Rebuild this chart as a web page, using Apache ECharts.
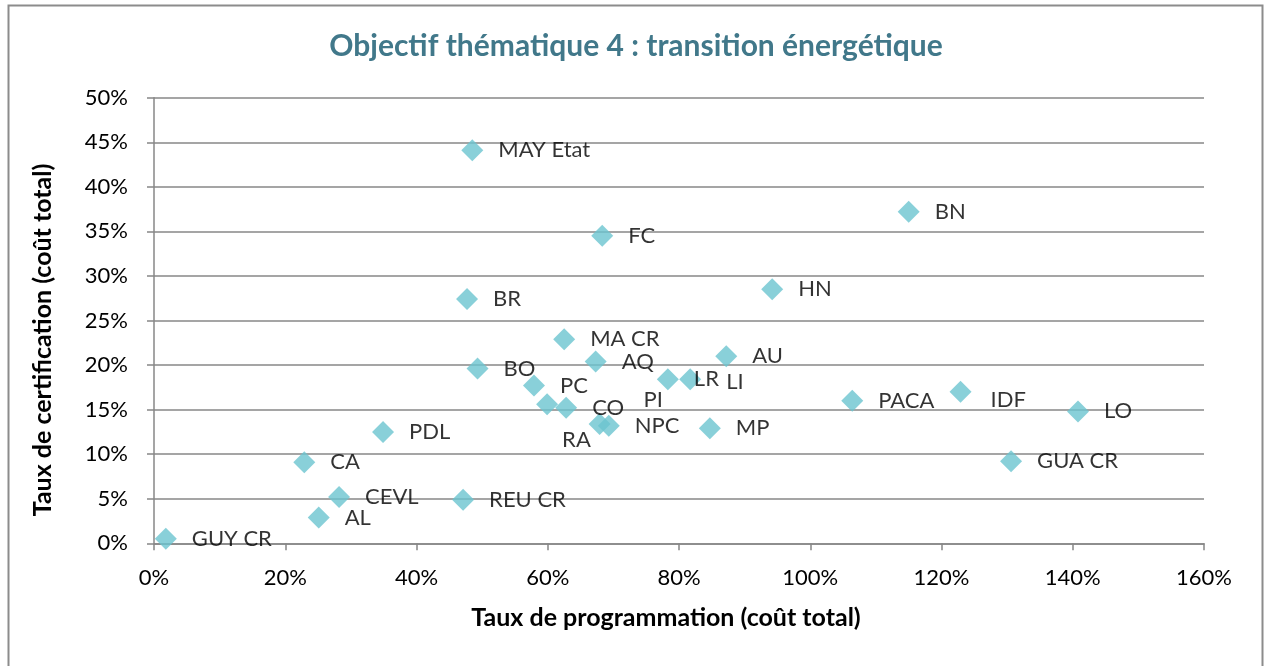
<!DOCTYPE html>
<html>
<head>
<meta charset="utf-8">
<script src="https://cdn.jsdelivr.net/npm/echarts@6/dist/echarts.min.js"></script>
<style>
    html, body { margin: 0; padding: 0; background: #fff; }
    #chart { width: 1265px; height: 666px; }
</style>
</head>
<body>
<div id="chart"></div>
<script>
const regions = [
    "GUY CR", "AL", "CEVL", "REU CR", "CA", "PDL", "MAY Etat", "BR", "FC", "BN",
    "HN", "MA CR", "BO", "AQ", "AU", "LR", "LI", "PC", "RA", "CO",
    "PI", "NPC", "MP", "PACA", "IDF", "LO", "GUA CR"
];
// taux de programmation (%)
const programmation = [
    1.8, 25.1, 28.2, 47.1, 22.9, 34.9, 48.5, 47.7, 68.3, 115.0,
    94.2, 62.5, 49.3, 67.3, 87.2, 78.3, 81.7, 57.9, 59.9, 62.8,
    67.9, 69.3, 84.7, 106.4, 122.9, 140.8, 130.6
];
// taux de certification (%)
const certification = [
    0.5, 2.9, 5.2, 4.9, 9.1, 12.5, 44.1, 27.4, 34.5, 37.2,
    28.5, 22.9, 19.6, 20.4, 21.0, 18.4, 18.4, 17.7, 15.6, 15.2,
    13.4, 13.2, 12.9, 16.0, 17.0, 14.8, 9.2
];
const xTicks = [0, 20, 40, 60, 80, 100, 120, 140, 160];
const yTicks = [0, 5, 10, 15, 20, 25, 30, 35, 40, 45, 50];

// labels moved by hand in the original
const labelShift = {
    "RA": [-11, 36],
    "PI": [18, -24],
    "LI": [10, 3],
    "IDF": [4, 8]
};

const font = "Lato, 'Open Sans', sans-serif";
const axisGrey = "#878787";

const chart = echarts.init(document.getElementById("chart"));

chart.setOption({
    animation: false,
    textStyle: { fontFamily: font },
    grid: { left: 154, right: 61, top: 97.7, bottom: 122.7 },
    graphic: [
        {
            type: "rect",
            shape: { x: 8.5, y: 5.5, width: 1254, height: 700 },
            style: { fill: "none", stroke: "#8c8c8c", lineWidth: 2 }
        },
        {
            type: "text",
            x: 636,
            y: 46,
            style: {
                text: "Objectif thématique 4 : transition énergétique",
                font: "bold 30px " + font,
                fill: "#41788a",
                textAlign: "center",
                textVerticalAlign: "middle"
            }
        },
        {
            type: "text",
            x: 666,
            y: 618,
            style: {
                text: "Taux de programmation (coût total)",
                font: "bold 25px " + font,
                fill: "#000",
                textAlign: "center",
                textVerticalAlign: "middle"
            }
        },
        {
            type: "text",
            x: 43,
            y: 340,
            rotation: Math.PI / 2,
            style: {
                text: "Taux de certification (coût total)",
                font: "bold 25px " + font,
                fill: "#000",
                textAlign: "center",
                textVerticalAlign: "middle"
            }
        }
    ],
    xAxis: {
        type: "value",
        min: xTicks[0],
        max: xTicks[xTicks.length - 1],
        interval: 20,
        axisLine: { show: true, lineStyle: { color: axisGrey, width: 1.5 } },
        axisTick: { show: true, length: 7, lineStyle: { color: axisGrey, width: 1.5 } },
        splitLine: { show: false },
        axisLabel: {
            margin: 24,
            color: "#000",
            fontSize: 22,
            fontFamily: font,
            formatter: "{value}%"
        }
    },
    yAxis: {
        type: "value",
        min: yTicks[0],
        max: yTicks[yTicks.length - 1],
        interval: 5,
        axisLine: { show: true, lineStyle: { color: axisGrey, width: 1.5 } },
        axisTick: { show: true, length: 7, lineStyle: { color: axisGrey, width: 1.5 } },
        splitLine: { show: true, lineStyle: { color: axisGrey, width: 1.5 } },
        axisLabel: {
            margin: 26,
            color: "#000",
            fontSize: 22,
            fontFamily: font,
            formatter: "{value}%"
        }
    },
    series: [
        {
            type: "scatter",
            symbol: "diamond",
            symbolSize: 22,
            itemStyle: { color: "#6cc4d0" },
            label: {
                show: true,
                position: "right",
                distance: 15,
                color: "#000",
                fontSize: 22,
                fontFamily: font,
                formatter: params => params.name
            },
            data: regions.map((name, i) => {
                const item = { name, value: [programmation[i], certification[i]] };
                if (labelShift[name]) {
                    item.label = { offset: labelShift[name] };
                }
                return item;
            })
        }
    ]
});
</script>
</body>
</html>
